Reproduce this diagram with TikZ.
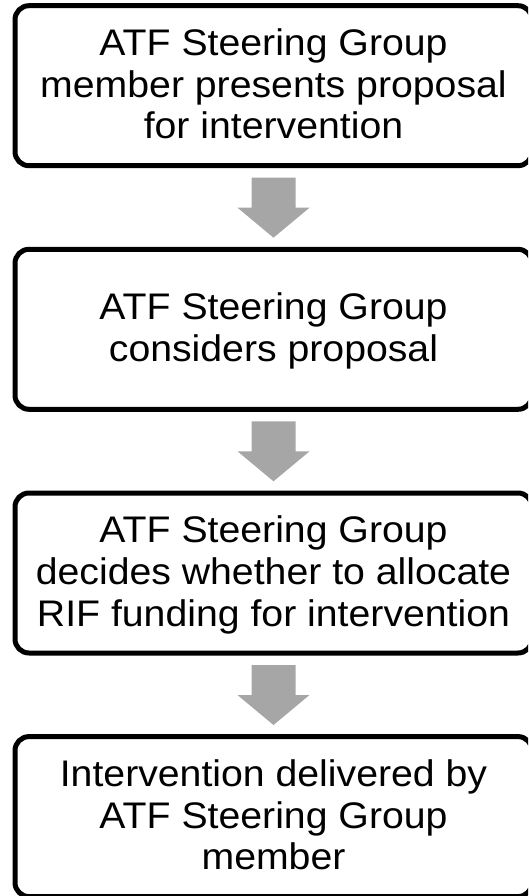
\documentclass[tikz,border=0pt]{standalone}
\usepackage{fontspec}
\setmainfont{Liberation Sans}[FakeStretch=1.06]
\usetikzlibrary{calc}
\definecolor{arrowgray}{HTML}{A6A6A6}
\newcommand\mytopstrut{\rule{0pt}{31pt}}
\newcommand\mybotstrut{\rule[-8pt]{0pt}{8pt}}
\begin{document}
\begin{tikzpicture}[
  stepbox/.style={draw=black, line width=5pt, rounded corners=14pt, rectangle,
    minimum width=517pt, minimum height=160pt, inner sep=0pt, outer sep=0pt,
    align=center, font=\fontsize{37}{41.7}\selectfont},
  arr/.style={fill=arrowgray}
]
\useasboundingbox (0,0) rectangle (528pt,-896pt);
\clip (0,0) rectangle (528pt,-896pt);
\node[stepbox] (b1) at (273.5pt,-85.7pt) {\mytopstrut ATF Steering Group\\member presents proposal\\for intervention\mybotstrut};
\node[stepbox] (b2) at (273.5pt,-329.3pt) {\mytopstrut ATF Steering Group\\considers proposal\mybotstrut};
\node[stepbox] (b3) at (273.5pt,-573pt) {\mytopstrut ATF Steering Group\\decides whether to allocate\\RIF funding for intervention\mybotstrut};
\node[stepbox] (b4) at (273.5pt,-816.6pt) {\mytopstrut Intervention delivered by\\ATF Steering Group\\member\mybotstrut};
\foreach \a in {b1,b2,b3}{
  \fill[arr] ($(\a.south)+(-22pt,-12pt)$) -- ++(44pt,0) -- ++(0,-30pt) -- ++(14pt,0)
    -- ++(-36pt,-30pt) -- ++(-36pt,30pt) -- ++(14pt,0) -- cycle;
}
\end{tikzpicture}
\end{document}
